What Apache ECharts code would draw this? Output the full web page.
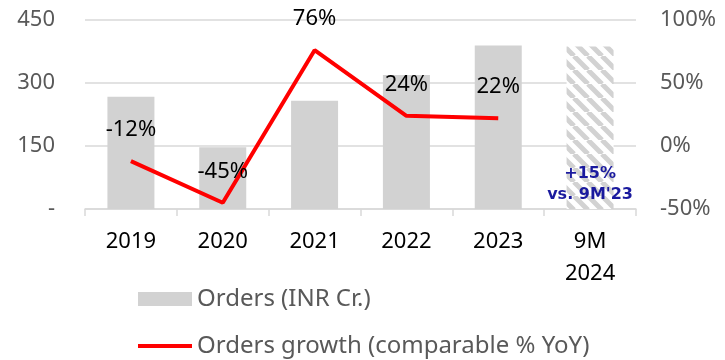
<!DOCTYPE html>
<html>
<head>
<meta charset="utf-8">
<script src="https://cdn.jsdelivr.net/npm/echarts@6/dist/echarts.min.js"></script>
<style>
  html, body { margin: 0; padding: 0; background: #fff; }
  #chart { width: 725px; height: 360px; }
</style>
</head>
<body>
<div id="chart"></div>
<script>
// Order intake by year, with comparable growth
const categories = ['2019', '2020', '2021', '2022', '2023', '9M\n2024'];
const orders = [267, 147, 258, 319, 389, 387];
const growth = [-12, -45, 76, 24, 22, null];
const leftTicks = [0, 150, 300, 450];
const rightTicks = [-50, 0, 50, 100];
const ytdNote = "+15%\nvs. 9M'23";

// Diagonal stripe fill for the partial-year bar
function stripePattern() {
  const size = 14;
  const c = document.createElement('canvas');
  c.width = size; c.height = size;
  const g = c.getContext('2d');
  g.fillStyle = '#ffffff';
  g.fillRect(0, 0, size, size);
  g.strokeStyle = '#d2d2d2';
  g.lineWidth = 5;
  g.beginPath();
  for (let k = -size; k <= 2 * size; k += size) {
    g.moveTo(k, 0);
    g.lineTo(k + size, size);
  }
  g.stroke();
  return { image: c, repeat: 'repeat' };
}

const FONT = 'Noto Sans';
const BAR_NAME = 'Orders (INR Cr.)';
const LINE_NAME = 'Orders growth (comparable % YoY)';
const chart = echarts.init(document.getElementById('chart'), null, { renderer: 'canvas' });

const barData = orders.map((v, i) => {
  if (i === orders.length - 1) {
    return {
      value: v,
      itemStyle: { color: stripePattern() },
      label: {
        show: true,
        position: 'insideBottom',
        distance: 4,
        formatter: ytdNote,
        color: '#1a1a9e',
        fontFamily: 'DejaVu Sans',
        fontWeight: 'bold',
        fontSize: 16,
        lineHeight: 21
      }
    };
  }
  return v;
});

// One legend block per row, stacked
const legendBase = {
  left: 138,
  padding: 0,
  itemWidth: 54,
  itemHeight: 14,
  itemGap: 5,
  textStyle: { fontFamily: FONT, fontSize: 24, color: '#595959' }
};

chart.setOption({
  animation: false,
  textStyle: { fontFamily: FONT },
  grid: { left: 85, right: 89, top: 20, bottom: 151 },
  legend: [
    Object.assign({}, legendBase, { top: 287, data: [{ name: BAR_NAME, icon: 'rect' }] }),
    Object.assign({}, legendBase, { top: 334, data: [{ name: LINE_NAME, icon: 'path://M0 0 H54 V4 H0 Z' }] })
  ],
  xAxis: {
    type: 'category',
    data: categories,
    boundaryGap: true,
    axisLine: { lineStyle: { color: '#d9d9d9', width: 1.5 } },
    axisTick: { show: true, length: 7, lineStyle: { color: '#d9d9d9', width: 1.5 } },
    axisLabel: { color: '#000', fontSize: 22, margin: 17, lineHeight: 32, fontFamily: FONT }
  },
  yAxis: [
    {
      type: 'value',
      min: leftTicks[0],
      max: leftTicks[leftTicks.length - 1],
      interval: 150,
      axisLine: { show: false },
      axisTick: { show: false },
      splitLine: { lineStyle: { color: '#d9d9d9', width: 1.5 } },
      axisLabel: {
        color: '#595959', fontSize: 22, margin: 30, fontFamily: FONT,
        formatter: v => (v === 0 ? '-' : String(v))
      }
    },
    {
      type: 'value',
      min: rightTicks[0],
      max: rightTicks[rightTicks.length - 1],
      interval: 50,
      axisLine: { show: false },
      axisTick: { show: false },
      splitLine: { show: false },
      axisLabel: {
        color: '#595959', fontSize: 22, margin: 24, fontFamily: FONT,
        formatter: v => v + '%'
      }
    }
  ],
  series: [
    {
      name: BAR_NAME,
      type: 'bar',
      yAxisIndex: 0,
      data: barData,
      barWidth: 47,
      itemStyle: { color: '#d2d2d2' }
    },
    {
      name: LINE_NAME,
      type: 'line',
      yAxisIndex: 1,
      data: growth,
      symbol: 'circle',
      symbolSize: 0.1,
      showSymbol: true,
      connectNulls: false,
      itemStyle: { color: '#ff0000' },
      lineStyle: { color: '#ff0000', width: 4 },
      label: {
        show: true,
        position: 'top',
        distance: 20,
        color: '#000',
        fontSize: 22,
        fontFamily: FONT,
        formatter: p => p.value + '%'
      }
    }
  ]
});
</script>
</body>
</html>
